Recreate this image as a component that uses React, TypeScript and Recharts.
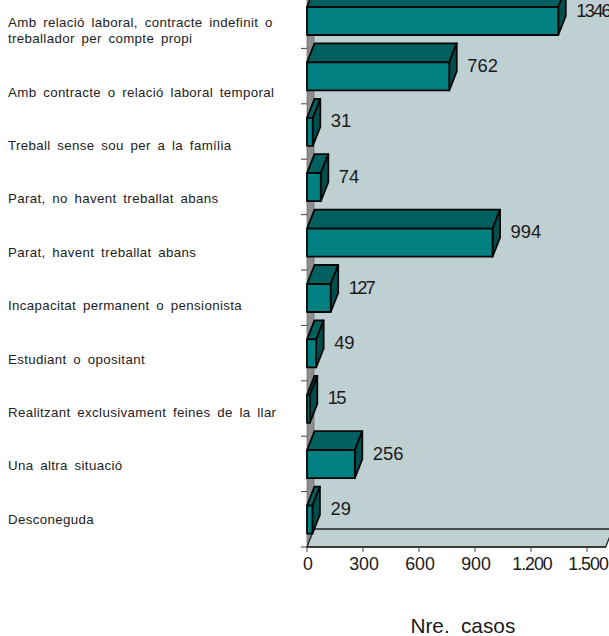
import React from 'react';
import { BarChart, Bar, XAxis, YAxis, ReferenceArea, LabelList } from 'recharts';

const categories = [
  'Amb relació laboral, contracte indefinit o\ntreballador per compte propi',
  'Amb contracte o relació laboral temporal',
  'Treball sense sou per a la família',
  'Parat, no havent treballat abans',
  'Parat, havent treballat abans',
  'Incapacitat permanent o pensionista',
  'Estudiant o opositant',
  'Realitzant exclusivament feines de la llar',
  'Una altra situació',
  'Desconeguda',
];
const values = [1346, 762, 31, 74, 994, 127, 49, 15, 256, 29];
const xTicks = [0, 300, 600, 900, 1200, 1500];
const xTickLabels = ['0', '300', '600', '900', '1.200', '1.500'];
const axisTitle = 'Nre. casos';

const data = categories.map((name, i) => ({ name, value: values[i] }));

const FONT = '"Liberation Sans", Arial, sans-serif';
const DX = 7.5;
const DY = 19;
const WALL_DX = 7;
const WALL_DY = 18;
const BAND = 55.4;

const Bar3D = (props: any) => {
  const { x, y, width, height } = props;
  const r = x + width;
  const b = y + height;
  return (
    <g stroke="#050505" strokeWidth={1.8} strokeLinejoin="round">
      <polygon points={`${x},${y} ${x + DX},${y - DY} ${r + DX},${y - DY} ${r},${y}`} fill="#006060" />
      <polygon points={`${r},${y} ${r + DX},${y - DY} ${r + DX},${b - DY} ${r},${b}`} fill="#004D4D" />
      <rect x={x} y={y} width={width} height={height} fill="#008080" />
    </g>
  );
};

const Walls = (props: any) => {
  const { x, y, width, height } = props;
  const r = x + width;
  const b = y + height;
  return (
    <g>
      <rect x={x + WALL_DX} y={y - WALL_DY} width={width} height={height} fill="#BFD0D3" />
      <polygon points={`${x},${y} ${x + WALL_DX},${y - WALL_DY} ${x + WALL_DX},${b - WALL_DY} ${x},${b}`} fill="#8E8E8E" stroke="#555" strokeWidth={0.6} />
      <polygon points={`${x},${b} ${x + WALL_DX},${b - WALL_DY} ${r + WALL_DX},${b - WALL_DY} ${r},${b}`} fill="#BFD0D3" stroke="#222" strokeWidth={1.3} />
    </g>
  );
};

const CategoryTick = (props: any) => {
  const { x, y, payload, index } = props;
  const lines: string[] = String(payload.value).split('\n');
  const last = y + (9 - index) * 2 + 4.5;
  return (
    <g>
      <line x1={x - 6} x2={x} y1={y - BAND / 2} y2={y - BAND / 2} stroke="#444" strokeWidth={1} />
      {index === categories.length - 1 && (
        <line x1={x - 6} x2={x} y1={y + BAND / 2} y2={y + BAND / 2} stroke="#444" strokeWidth={1} />
      )}
      {lines.map((t, i) => (
        <text key={i} x={8} y={last - (lines.length - 1 - i) * 16} fontFamily={FONT} fontSize={13.3} letterSpacing={0.35} wordSpacing={2.7} fill="#222">
          {t}
        </text>
      ))}
    </g>
  );
};

const NumberTick = (props: any) => {
  const { x, y, payload } = props;
  const label = xTickLabels[xTicks.indexOf(payload.value)];
  return (
    <text
      x={x + 1}
      y={y + 6}
      dy={12}
      textAnchor="middle"
      fontFamily={FONT}
      fontSize={17.8}
      letterSpacing={label.startsWith('1') ? -1 : 0}
      fill="#1a1a1a"
    >
      {label}
    </text>
  );
};

const ValueLabel = (props: any) => {
  const { x, y, width, height, value } = props;
  return (
    <text
      x={x + width + DX + 10.5}
      y={y + height / 2 - 4.5}
      fontFamily={FONT}
      fontSize={18.4}
      letterSpacing={String(value).startsWith('1') ? -1.8 : 0}
      fill="#1a1a1a"
    >
      {value}
    </text>
  );
};

const AxisTitle = (props: any) => {
  const { viewBox } = props;
  return (
    <text x={viewBox.x + viewBox.width / 2 + 6.5} y={652.7} textAnchor="middle" fontFamily={FONT} fontSize={20.8} wordSpacing={5.5} fill="#1a1a1a">
      {axisTitle}
    </text>
  );
};

export default function App() {
  return (
    <div style={{ position: 'absolute', left: 0, top: 0, width: 609, height: 636, overflow: 'hidden', background: '#fff' }}>
      <div style={{ position: 'absolute', left: 0, top: -20 }}>
        <BarChart
          width={640}
          height={700}
          data={data}
          layout="vertical"
          margin={{ top: 13, right: 34.3, left: 0, bottom: 43 }}
          barSize={28}
        >
          <ReferenceArea x1={0} x2={1600} shape={Walls} ifOverflow="visible" />
          <XAxis
            type="number"
            domain={[0, 1600]}
            ticks={xTicks}
            interval={0}
            height={90}
            tickSize={5}
            tickMargin={0}
            axisLine={{ stroke: '#222', strokeWidth: 1 }}
            tickLine={{ stroke: '#444' }}
            tick={NumberTick}
            label={<AxisTitle />}
          />
          <YAxis
            type="category"
            dataKey="name"
            width={307}
            tickSize={0}
            tickMargin={0}
            interval={0}
            axisLine={false}
            tick={CategoryTick}
          />
          <Bar dataKey="value" shape={Bar3D} isAnimationActive={false}>
            <LabelList dataKey="value" content={ValueLabel} />
          </Bar>
        </BarChart>
      </div>
    </div>
  );
}
